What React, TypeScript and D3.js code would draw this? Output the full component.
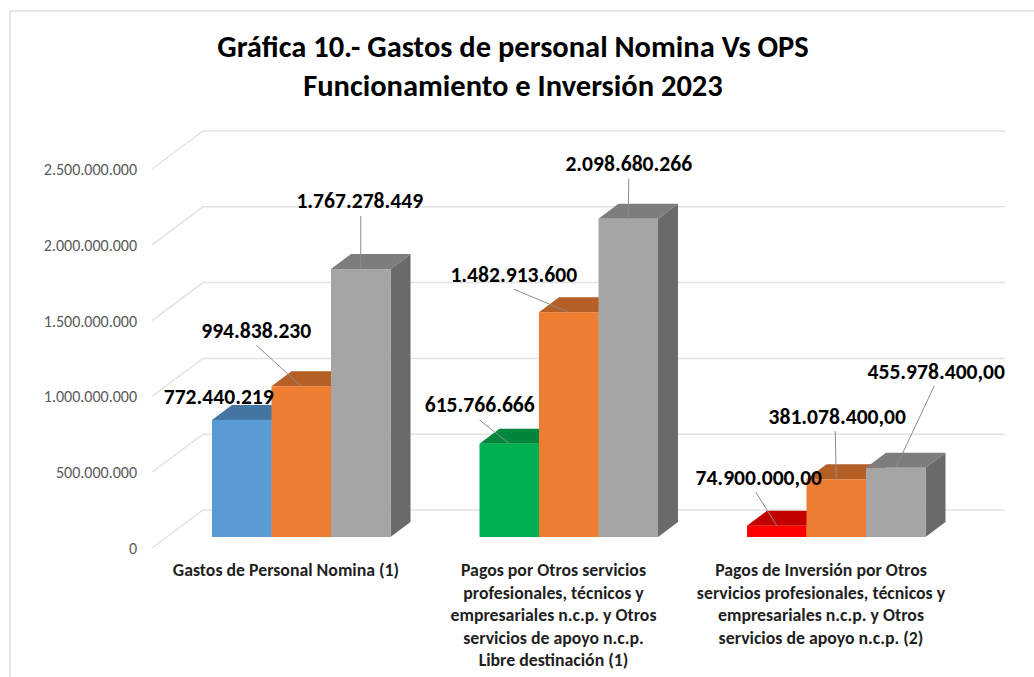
import React, { useEffect, useRef } from 'react';
import * as d3 from 'd3';

const titleLines = ['Gráfica 10.- Gastos de personal Nomina Vs OPS', 'Funcionamiento e Inversión 2023'];
const tickValues = [0, 500000000, 1000000000, 1500000000, 2000000000, 2500000000];
const tickLabels = ['0', '500.000.000', '1.000.000.000', '1.500.000.000', '2.000.000.000', '2.500.000.000'];
const categories = ['nomina', 'libre', 'inversion'];
const categoryLines = [
    ['Gastos de Personal Nomina (1)'],
    ['Pagos por Otros servicios', 'profesionales, técnicos y', 'empresariales n.c.p. y Otros', 'servicios de apoyo n.c.p.', 'Libre destinación (1)'],
    ['Pagos de Inversión por Otros', 'servicios profesionales, técnicos y', 'empresariales n.c.p. y Otros', 'servicios de apoyo n.c.p. (2)']
];
const series = ['a', 'b', 'c'];
const values = [
    [772440219, 994838230, 1767278449],
    [615766666, 1482913600, 2098680266],
    [74900000, 381078400, 455978400]
];
const valueLabels = [
    ['772.440.219', '994.838.230', '1.767.278.449'],
    ['615.766.666', '1.482.913.600', '2.098.680.266'],
    ['74.900.000,00', '381.078.400,00', '455.978.400,00']
];
const barColors = [
    ['#5b9bd5', '#ed7d31', '#a5a5a5'],
    ['#00b050', '#ed7d31', '#a5a5a5'],
    ['#ff0000', '#ed7d31', '#a5a5a5']
];

// Hand-moved data labels: offset of the label centre from the top centre of its bar
const labelOffsets = [
    [[-23, -23], [-45, -55], [-1, -68]],
    [[-29.5, -38.5], [-55, -37], [0.5, -55]],
    [[-18, -47.6], [1, -62], [40.5, -96]]
];
// Where each leader line leaves its label (null = no leader)
const leaderOffsets = [
    [null, [0, 14], [1, 15]],
    [[0, 15], [0, 14], [0, 15]],
    [[-3, 14], [-2, 14], [-2, 14]]
];

// Shade a colour the way Excel darkens the faces of a 3D column
const shade = (color: string, k: number) => {
    const c = d3.rgb(color);
    return d3.rgb(c.r * k, c.g * k, c.b * k).formatHex();
};

const App = () => {
    const svgRef = useRef<SVGSVGElement>(null);

    useEffect(() => {
        const width = 1034;
        const height = 677;
        const fontFamily = 'Carlito, Calibri, "Open Sans", "Noto Sans", sans-serif';

        const svg = d3.select(svgRef.current);
        svg.selectAll('*').remove();
        svg.attr('width', width).attr('height', height)
            .style('position', 'absolute').style('left', 0).style('top', 0)
            .style('background', '#fff');

        // Chart frame, its right and bottom edges fall outside the picture
        svg.append('rect')
            .attr('x', 10).attr('y', 11)
            .attr('width', 1100).attr('height', 800)
            .attr('fill', '#fff').attr('stroke', '#dedede').attr('stroke-width', 1.5);

        // Title
        svg.append('g').selectAll('text')
            .data(titleLines)
            .enter()
            .append('text')
            .attr('x', 513)
            .attr('y', (_, i) => 57 + i * 38.5)
            .attr('text-anchor', 'middle')
            .attr('font-family', fontFamily)
            .attr('font-size', 30.5)
            .attr('font-weight', 700)
            .attr('fill', '#000')
            .text(d => d);

        // Scales: y is the front plane of the floor, bars and back wall are offset from it
        const y = d3.scaleLinear().domain([0, 2500000000]).range([548, 169]);
        const wall = { dx: 51, dy: -38 };
        const barLift = -11;
        const barDepth = { dx: 20, dy: -15 };

        const x0 = d3.scaleBand().domain(categories).range([145, 947.5]);
        const barW = 59.5;
        const x1 = d3.scaleBand().domain(series).range([0, barW * 3]);
        const groupLeft = (c: string) => (x0(c) as number) + 67;

        // Gridlines along side wall and back wall
        const line = d3.line();
        svg.append('g').selectAll('path')
            .data(tickValues)
            .enter()
            .append('path')
            .attr('d', d => line([
                [152, y(d)],
                [152 + wall.dx, y(d) + wall.dy],
                [1005, y(d) + wall.dy]
            ]))
            .attr('fill', 'none')
            .attr('stroke', '#e3e3e3')
            .attr('stroke-width', 1.5);

        // Tick labels
        svg.append('g').selectAll('text')
            .data(tickValues)
            .enter()
            .append('text')
            .attr('x', 137)
            .attr('y', d => y(d) + 6)
            .attr('text-anchor', 'end')
            .attr('font-family', fontFamily)
            .attr('font-size', 16)
            .attr('fill', '#595959')
            .text((_, i) => tickLabels[i]);

        // Bars, left to right so each front covers the side of the previous bar
        const bars = svg.append('g');
        categories.forEach((c, ci) => {
            series.forEach((s, si) => {
                const color = barColors[ci][si];
                const left = groupLeft(c) + (x1(s) as number);
                const right = left + x1.bandwidth();
                const bottom = y(0) + barLift;
                const top = y(values[ci][si]) + barLift;
                const { dx, dy } = barDepth;

                bars.append('path')
                    .attr('d', line([[right, bottom], [right + dx, bottom + dy], [right + dx, top + dy], [right, top]]) + 'Z')
                    .attr('fill', shade(color, 0.64));
                bars.append('path')
                    .attr('d', line([[left, top], [left + dx, top + dy], [right + dx, top + dy], [right, top]]) + 'Z')
                    .attr('fill', shade(color, 0.76));
                bars.append('rect')
                    .attr('x', left)
                    .attr('y', top)
                    .attr('width', x1.bandwidth())
                    .attr('height', bottom - top)
                    .attr('fill', color);
            });
        });

        // Leader lines and value labels
        const labels = svg.append('g');
        categories.forEach((c, ci) => {
            series.forEach((s, si) => {
                const cx = groupLeft(c) + (x1(s) as number) + x1.bandwidth() / 2;
                const cy = y(values[ci][si]) + barLift;
                const lx = cx + labelOffsets[ci][si][0];
                const ly = cy + labelOffsets[ci][si][1];
                const lead = leaderOffsets[ci][si];

                if (lead) {
                    labels.append('line')
                        .attr('x1', lx + lead[0]).attr('y1', ly + lead[1])
                        .attr('x2', cx).attr('y2', cy)
                        .attr('stroke', '#8c8c8c')
                        .attr('stroke-width', 1);
                }
                labels.append('text')
                    .attr('x', lx)
                    .attr('y', ly + 7)
                    .attr('text-anchor', 'middle')
                    .attr('font-family', fontFamily)
                    .attr('font-size', 21.6)
                    .attr('font-weight', 700)
                    .attr('fill', '#000')
                    .text(valueLabels[ci][si]);
            });
        });

        // Category labels
        categories.forEach((c, ci) => {
            svg.append('g').selectAll('text')
                .data(categoryLines[ci])
                .enter()
                .append('text')
                .attr('x', groupLeft(c) + 74)
                .attr('y', (_, i) => 576 + i * 22.5)
                .attr('text-anchor', 'middle')
                .attr('font-family', fontFamily)
                .attr('font-size', 17.8)
                .attr('font-weight', 700)
                .attr('fill', '#1f1f1f')
                .text(d => d);
        });
    }, []);

    return <svg ref={svgRef}></svg>;
};

export default App;
